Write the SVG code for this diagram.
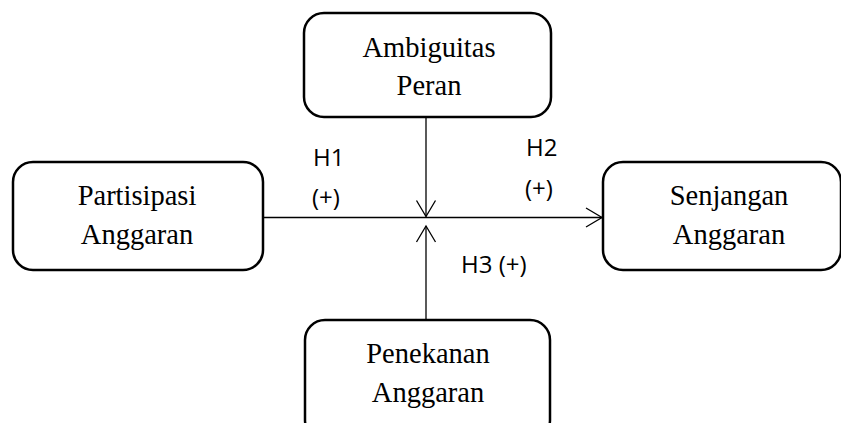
<svg xmlns="http://www.w3.org/2000/svg" width="841" height="423" viewBox="0 0 841 423">
  <style>
    .box { fill: #ffffff; stroke: #000000; stroke-width: 2.5; }
    .nt { font-family: "Liberation Serif", "Times New Roman", serif; font-size: 28.5px; fill: #000000; text-anchor: middle; }
    .lbl { font-family: "Open Sans", "Liberation Sans", sans-serif; font-size: 24px; fill: #000000; }
    .edge { fill: none; stroke: #000000; stroke-width: 1.3; }
  </style>
  <defs>
    <marker id="arr" markerUnits="userSpaceOnUse" markerWidth="20" markerHeight="22" viewBox="-18 -11 20 22" refX="0" refY="0" orient="auto">
      <path d="M-16,-9.5 L0,0 L-16,9.5" fill="none" stroke="#000000" stroke-width="1.3"/>
    </marker>
  </defs>
  <rect width="841" height="423" fill="#ffffff"/>
  <g id="edges">
    <line class="edge" x1="263" y1="217.5" x2="602" y2="217.5" marker-end="url(#arr)"/>
    <line class="edge" x1="426" y1="117" x2="426" y2="216.5" marker-end="url(#arr)"/>
    <line class="edge" x1="426" y1="320" x2="426" y2="226" marker-end="url(#arr)"/>
    <text class="lbl" x="313" y="166">H1</text>
    <text class="lbl" x="312" y="206">(+)</text>
    <text class="lbl" x="526" y="156">H2</text>
    <text class="lbl" x="525" y="197">(+)</text>
    <text class="lbl" x="461" y="273">H3 (+)</text>
  </g>
  <g id="ambiguitas">
    <rect class="box" x="304" y="13" width="247" height="104" rx="20"/>
    <text class="nt" x="429" y="57">Ambiguitas</text>
    <text class="nt" x="429" y="95">Peran</text>
  </g>
  <g id="partisipasi">
    <rect class="box" x="13" y="162" width="250" height="108" rx="20"/>
    <text class="nt" x="137" y="205">Partisipasi</text>
    <text class="nt" x="137" y="244">Anggaran</text>
  </g>
  <g id="senjangan">
    <rect class="box" x="603" y="162" width="238" height="108" rx="20"/>
    <text class="nt" x="729" y="205">Senjangan</text>
    <text class="nt" x="729" y="244">Anggaran</text>
  </g>
  <g id="penekanan">
    <rect class="box" x="305" y="320" width="245" height="120" rx="20"/>
    <text class="nt" x="428" y="363">Penekanan</text>
    <text class="nt" x="428" y="402">Anggaran</text>
  </g>
</svg>
